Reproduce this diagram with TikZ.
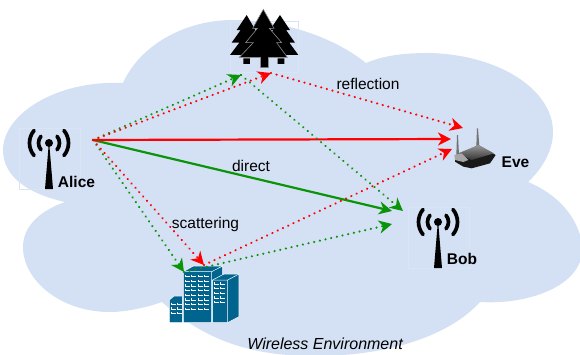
\documentclass[tikz,border=0pt]{standalone}
\usepackage{fontspec}
\setmainfont{Liberation Sans}
\usepackage{tikz}
\usepackage{xcolor}
\usetikzlibrary{arrows.meta, positioning, calc}
\definecolor{CloudBlue}{HTML}{D4E0F3}
\definecolor{TowerBlue}{HTML}{00648F}
\definecolor{PathRed}{HTML}{FF0000}
\definecolor{PathGreen}{HTML}{0A940A}
\tikzset{
    direct/.style={line width=2.2pt, -{Stealth[length=13pt,width=13pt,inset=4pt]}},
    bounce/.style={line width=2.4pt, line cap=round, dash pattern=on 0.01pt off 5.8pt,
                   -{Stealth[length=13pt,width=13pt,inset=4pt,line cap=butt]}},
    pathlabel/.style={text=black, inner sep=0pt, font=\fontsize{15.5}{15.5}\selectfont},
    termname/.style={text=black, inner sep=0pt, font=\fontsize{15.5}{15.5}\selectfont\bfseries},
    iconbox/.style={draw=CloudBlue!88!white, line width=0.4pt},
    pics/mast/.style={code={
        \draw[iconbox] (0,0) rectangle (61,61);
        \fill[black] (30,15) circle (4pt);
        \fill[black] (30,13) -- (26,61) -- (34,61) -- cycle;
        \draw[black, line width=3.7pt, line cap=round]
            (30,15) ++(140:19.5) arc[start angle=140, end angle=220, radius=19.5]
            (30,15) ++(140:10.5) arc[start angle=140, end angle=220, radius=10.5]
            (30,15) ++(40:19.5) arc[start angle=40, end angle=-40, radius=19.5]
            (30,15) ++(40:10.5) arc[start angle=40, end angle=-40, radius=10.5];
    }},
}

\begin{document}
\begin{tikzpicture}[x=1pt, y=-1pt]
    \useasboundingbox (0,0) rectangle (580,354);

    % environment
    \fill[CloudBlue] (65,202) .. controls (25,193) and (3,175) .. (3,150)
        .. controls (3,115) and (55,80) .. (123,83)
        .. controls (140,45) and (185,20) .. (233,20)
        .. controls (285,20) and (335,38) .. (366,63)
        .. controls (385,55) and (405,53) .. (430,53)
        .. controls (500,55) and (553,90) .. (553,132)
        .. controls (553,150) and (543,168) .. (528,182)
        .. controls (560,195) and (582,222) .. (582,250)
        .. controls (582,285) and (530,305) .. (480,302)
        .. controls (450,335) and (390,356) .. (315,356)
        .. controls (260,356) and (210,345) .. (162,302)
        .. controls (145,308) and (125,312) .. (110,312)
        .. controls (60,312) and (23,280) .. (23,247)
        .. controls (23,225) and (42,210) .. (65,202) -- cycle;

    % trees
    \draw[iconbox] (230,21) rectangle (298,72);
    \begin{scope}[shift={(200,0)}, x=0.3333pt, y=-0.3333pt]
        \fill[black] (140,45) -- (172,100) -- (160,100) -- (190,135) -- (175,135) -- (205,165)
            -- (90,165) -- (118,128) -- (95,128) -- (122,90) -- (110,90) -- cycle;
        \fill[black] (240,45) -- (270,90) -- (258,90) -- (285,128) -- (268,128) -- (295,165)
            -- (180,165) -- (205,130) -- (190,130) -- (220,90) -- (210,90) -- cycle;
        \fill[black] (130,175) rectangle (150,192) (233,175) rectangle (253,192);
        \filldraw[black, draw=black!45, line width=0.6pt] (190,28) -- (222,85) -- (208,85) -- (245,128) -- (230,128)
            -- (262,172) -- (205,172) -- (205,203) -- (182,203) -- (182,172) -- (118,172)
            -- (160,128) -- (137,128) -- (172,85) -- (158,85) -- cycle;
    \end{scope}

    % buildings
    \begin{scope}[shift={(150,240)}, x=0.3333pt, y=-0.3333pt]
        \filldraw[TowerBlue, draw=white, line width=0.5pt]
            (58,180) -- (72,168) -- (97,168) -- (97,248) -- (58,248) -- cycle;
        \filldraw[TowerBlue, draw=white, line width=0.5pt]
            (100,95) -- (130,78) -- (218,78) -- (218,120) -- (185,120) -- (185,248) -- (100,248) -- cycle;
        \draw[white, line width=0.5pt] (100,95) -- (185,95) -- (218,78) (185,95) -- (185,120);
        \filldraw[TowerBlue, draw=white, line width=0.5pt]
            (188,120) -- (222,102) -- (267,102) -- (267,230) -- (233,248) -- (188,248) -- cycle;
        \draw[white, line width=0.5pt] (188,120) -- (233,120) -- (267,102) (233,120) -- (233,248);
        \foreach \col in {106,125,144,163}
            \foreach \row in {105,119,...,205}
                \draw[white, line width=0.5pt] (\col,\row) -- ++(0,5) -- ++(14,0);
        \foreach \col in {193,212}
            \foreach \row in {127,141,...,183}
                \draw[white, line width=0.5pt] (\col,\row) -- ++(0,5) -- ++(14,0);
        \foreach \col in {63,82}
            \foreach \row in {188,202,216}
                \draw[white, line width=0.5pt] (\col,\row) -- ++(0,5) -- ++(14,0);
    \end{scope}

    % router
    \begin{scope}[shift={(400,100)}, x=0.3333pt, y=-0.3333pt]
        \fill[black!55] (171,105) -- (174,105) -- (177,165) -- (169,165) -- cycle;
        \fill[black!55] (231,85) -- (234,85) -- (238,140) -- (229,140) -- cycle;
        \fill[black!90] (165,172) -- (235,135) -- (287,165) -- (270,190) -- (215,205) -- (190,200) -- (165,185) -- cycle;
        \shade[top color=black!40, bottom color=black!80] (175,160) -- (235,135) -- (282,160) -- (215,180) -- cycle;
        \fill[black!35] (163,165) -- (185,160) -- (205,180) -- (190,186) -- (165,180) -- cycle;
    \end{scope}

    % terminals
    \pic at (19,128) {mast};
    \pic at (408,207) {mast};
    \node[termname] (alice) at (76.5,181.5) {Alice};
    \node[termname] (bob) at (462,259) {Bob};
    \node[termname] (eve) at (515.5,162) {Eve};

    \coordinate (tx) at (93,140);
    \coordinate (treeRed) at (271,73);
    \coordinate (treeGreen) at (241,75);
    \coordinate (towerRed) at (204,265);
    \coordinate (towerGreen) at (184,272);
    \coordinate (eveUp) at (463,128);
    \coordinate (eveMid) at (451,139);
    \coordinate (eveLow) at (452,149);
    \coordinate (bobUp) at (403,211);
    \coordinate (bobMid) at (392,211);
    \coordinate (bobLow) at (392,224);

    % paths
    \draw[direct, PathGreen] (tx) -- (bobMid);
    \draw[direct, PathRed] (tx) -- (eveMid);
    \draw[bounce, PathGreen] (tx) -- (treeGreen);
    \draw[bounce, PathRed] (tx) -- (treeRed);
    \draw[bounce, PathGreen] (tx) -- (towerGreen);
    \draw[bounce, PathRed] (tx) -- (towerRed);
    \draw[bounce, PathRed] (treeRed) -- (eveUp);
    \draw[bounce, PathGreen] (treeGreen) -- (bobUp);
    \draw[bounce, PathRed] (towerRed) -- (eveLow);
    \draw[bounce, PathGreen] (towerGreen) -- (bobLow);

    \node[pathlabel] (reflection) at (368,84) {reflection};
    \node[pathlabel] (directLabel) at (251,166) {direct};
    \node[pathlabel] (scattering) at (205.5,224) {scattering};
    \node[pathlabel, font=\fontsize{16}{16}\selectfont\itshape] (environment) at (325,344) {Wireless Environment};
\end{tikzpicture}
\end{document}
